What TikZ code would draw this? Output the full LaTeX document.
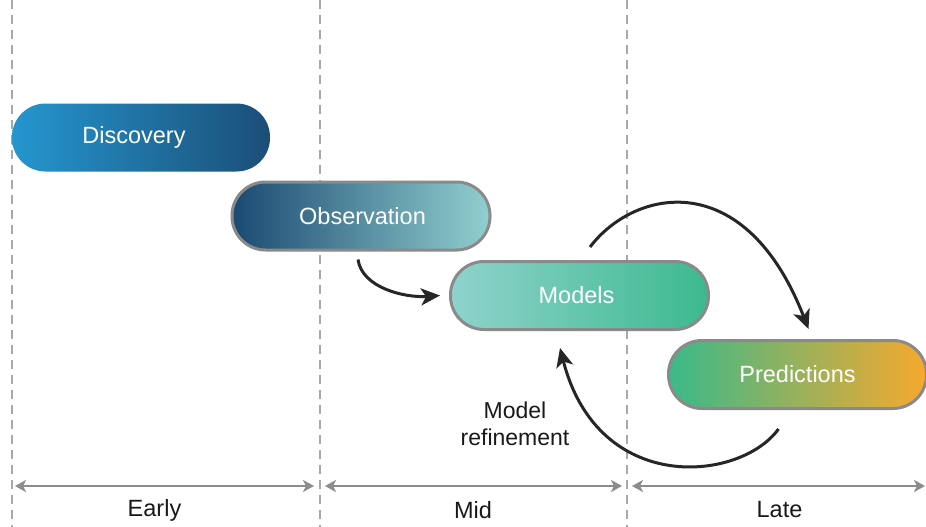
\documentclass[tikz,border=0pt]{standalone}
\usepackage{fontspec}
\setmainfont{Liberation Sans}
\usetikzlibrary{arrows.meta}
\definecolor{dashgray}{HTML}{A8A8A8}
\definecolor{axisgray}{HTML}{8C8C8C}
\definecolor{boxborder}{HTML}{8A8A8A}
\definecolor{arrowblack}{HTML}{262626}
\definecolor{discL}{HTML}{2596CF}
\definecolor{discR}{HTML}{1B4E77}
\definecolor{obsL}{HTML}{1B4A72}
\definecolor{obsR}{HTML}{92CFCF}
\definecolor{modL}{HTML}{8FD3CC}
\definecolor{modR}{HTML}{3CB98E}
\definecolor{predL}{HTML}{3AB98A}
\definecolor{predR}{HTML}{F7A92E}
\begin{document}
\begin{tikzpicture}[x=1pt,y=-1pt,
  phase/.style={rectangle,rounded corners=33.5pt,minimum width=258pt,minimum height=68pt,
    text=white,font=\fontsize{23.5}{26}\selectfont,inner sep=0pt},
  bordered/.style={draw=boxborder,line width=3pt},
  flow/.style={draw=arrowblack,line width=3pt,-{Stealth[length=19pt,width=17pt,inset=5pt]}},
  span/.style={draw=axisgray,line width=2.5pt,{Stealth[length=11pt,width=12pt,inset=3pt]}-{Stealth[length=11pt,width=12pt,inset=3pt]}},
  divider/.style={draw=dashgray,line width=1.6pt,dash pattern=on 9pt off 6pt},
  stagelabel/.style={font=\fontsize{23.5}{26}\selectfont,text=black!90},
  note/.style={font=\fontsize{23}{27}\selectfont,align=center,text=black!90}]
\useasboundingbox (0,0) rectangle (926,527);
\fill[white] (0,0) rectangle (926,527);
% dividers
\draw[divider] (12,0) -- (12,527);
\draw[divider] (320,0) -- (320,527);
\draw[divider] (627,0) -- (627,527);
% phase boxes
\node[phase,left color=discL,right color=discR] (disc) at (141,137.5) {Discovery\hspace*{14pt}};
\node[phase,bordered,left color=obsL,right color=obsR] (obs) at (361,216) {\hspace*{3pt}Observation};
\node[phase,bordered,left color=modL,right color=modR] (mod) at (579.5,295.5) {Models\hspace*{6pt}};
\node[phase,bordered,left color=predL,right color=predR] (pred) at (797.5,374.5) {Predictions};
% flow arrows
\draw[flow] ([shift={(-3pt,-8pt)}]obs.south) .. controls (362,288) and (405,298) .. ([xshift=-9pt]mod.west);
\draw[flow] ([shift={(10.5pt,13pt)}]mod.north) .. controls (635,188) and (745,166) .. ([shift={(11pt,10pt)}]pred.north);
\draw[flow] ([shift={(-19pt,-19pt)}]pred.south) .. controls (740,482) and (598,496) .. ([shift={(-19.5pt,-17pt)}]mod.south);
\node[note] (refine) at (515,424) {Model\\refinement};
% stage spans
\coordinate (e1) at (15,486); \coordinate (e2) at (314,486);
\coordinate (m1) at (325,486); \coordinate (m2) at (622,486);
\coordinate (l1) at (632,486); \coordinate (l2) at (925,486);
\draw[span] (e1) -- (e2);
\draw[span] (m1) -- (m2);
\draw[span] (l1) -- (l2);
\node[stagelabel] (early) at (154.5,510) {Early};
\node[stagelabel] (mid) at (473,510) {Mid};
\node[stagelabel] (late) at (779.5,510) {Late};
\end{tikzpicture}
\end{document}
